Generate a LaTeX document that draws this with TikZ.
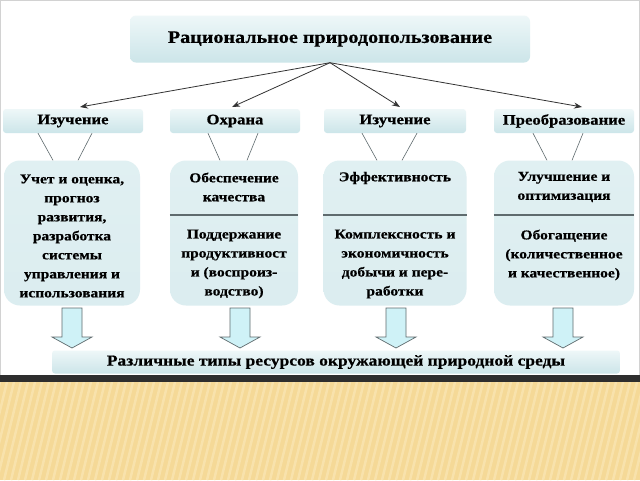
\documentclass[tikz,border=0pt]{standalone}
\usepackage{fontspec}
\setmainfont{Liberation Serif}[BoldFeatures={FakeStretch=1.15,FakeBold=0.6}]
\usetikzlibrary{arrows.meta}
\definecolor{boxtop}{HTML}{EEF7F8}
\definecolor{boxbot}{HTML}{CCE5E9}
\definecolor{linegray}{HTML}{5F6B6E}
\definecolor{arrowfill}{HTML}{CFF2F7}
\definecolor{gold}{HTML}{F5D997}
\definecolor{goldlight}{HTML}{F8E2AC}

\tikzset{
  titlebox/.style={rounded corners=6pt, top color=boxtop, bottom color=boxbot, minimum width=400pt, minimum height=47pt, font=\fontsize{17.5}{20}\selectfont\bfseries},
  headbox/.style={rounded corners=3pt, top color=boxtop, bottom color=boxbot, minimum height=24pt, font=\fontsize{14.5}{16}\selectfont\bfseries},
  bigbox/.style={rounded corners=16pt, top color=boxtop!60!boxbot, bottom color=boxbot!70, minimum height=145pt},
  boxtext/.style={align=center, font=\fontsize{13.5}{19}\selectfont\bfseries},
  fatarrow/.style={draw=linegray, fill=arrowfill, line width=0.7pt, line join=miter},
  thin/.style={draw=linegray, line width=0.6pt},
}

\begin{document}
\begin{tikzpicture}[x=1pt,y=-1pt]
\useasboundingbox (0,0) rectangle (640,480);
\fill[white] (0,0) rectangle (640,375);
\draw[gray!35, line width=1pt] (0.5,0.5) rectangle (639.5,375);

\node[titlebox] (top) at (330,39) {Рациональное природопользование};

% second row
\node[headbox, minimum width=140pt] (h1) at (73,121) {Изучение};
\node[headbox, minimum width=130pt] (h2) at (235,121) {Охрана};
\node[headbox, minimum width=142pt] (h3) at (395,121) {Изучение};
\node[headbox, minimum width=140pt] (h4) at (564,121) {Преобразование};

\draw[-{Stealth[length=8pt,width=6pt]}, line width=0.8pt, black!80] (top.south) -- (80,107);
\draw[-{Stealth[length=8pt,width=6pt]}, line width=0.8pt, black!80] (top.south) -- (232,107);
\draw[-{Stealth[length=8pt,width=6pt]}, line width=0.8pt, black!80] (top.south) -- (400,107);
\draw[-{Stealth[length=8pt,width=6pt]}, line width=0.8pt, black!80] (top.south) -- (582,107);

% big boxes
\node[bigbox, minimum width=136pt] (b1) at (72,233) {};
\node[bigbox, minimum width=128pt] (b2) at (234,233) {};
\node[bigbox, minimum width=143pt] (b3) at (395,233) {};
\node[bigbox, minimum width=140pt] (b4) at (564,233) {};

\draw[thin] ([xshift=-35pt]h1.south) -- ([xshift=-19pt]b1.north);
\draw[thin] ([xshift=19pt]h1.south) -- ([xshift=6pt]b1.north);
\draw[thin] ([xshift=-27pt]h2.south) -- ([xshift=-14pt]b2.north);
\draw[thin] ([xshift=23pt]h2.south) -- ([xshift=13pt]b2.north);
\draw[thin] ([xshift=-33pt]h3.south) -- ([xshift=-18pt]b3.north);
\draw[thin] ([xshift=22pt]h3.south) -- ([xshift=7pt]b3.north);
\draw[thin] ([xshift=-31pt]h4.south) -- ([xshift=-17pt]b4.north);
\draw[thin] ([xshift=19pt]h4.south) -- ([xshift=8pt]b4.north);

% dividers
\draw[linegray, line width=1.2pt] (b2.west |- 0,215) -- (b2.east |- 0,215);
\draw[linegray, line width=1.2pt] (b3.west |- 0,215) -- (b3.east |- 0,215);
\draw[linegray, line width=1.2pt] (b4.west |- 0,215) -- (b4.east |- 0,215);

\node[boxtext] (t1) at (72,236) {Учет и оценка,\\прогноз\\развития,\\разработка\\системы\\управления и\\использования};
\node[boxtext] (t2a) at (234,187) {Обеспечение\\качества};
\node[boxtext] (t2b) at (234,264) {Поддержание\\продуктивност\\и (воспроиз-\\водство)};
\node[boxtext] (t3a) at (395,178) {Эффективность};
\node[boxtext] (t3b) at (395,264) {Комплексность и\\экономичность\\добычи и пере-\\работки};
\node[boxtext] (t4a) at (564,187) {Улучшение и\\оптимизация};
\node[boxtext] (t4b) at (564,255) {Обогащение\\(количественное\\и качественное)};

% block arrows
\coordinate (a1) at (72,308);
\coordinate (a2) at (240,308);
\coordinate (a3) at (396,308);
\coordinate (a4) at (563,308);
\draw[fatarrow] (a1) ++(-10,0) -- ++(20,0) -- ++(0,29) -- ++(10,0) -- ++(-20,11) -- ++(-20,-11) -- ++(10,0) -- cycle;
\draw[fatarrow] (a2) ++(-10,0) -- ++(20,0) -- ++(0,29) -- ++(10,0) -- ++(-20,11) -- ++(-20,-11) -- ++(10,0) -- cycle;
\draw[fatarrow] (a3) ++(-10,0) -- ++(20,0) -- ++(0,29) -- ++(10,0) -- ++(-20,11) -- ++(-20,-11) -- ++(10,0) -- cycle;
\draw[fatarrow] (a4) ++(-10,0) -- ++(20,0) -- ++(0,29) -- ++(10,0) -- ++(-20,11) -- ++(-20,-11) -- ++(10,0) -- cycle;

\node[headbox, minimum width=568pt, minimum height=23pt, font=\fontsize{15.2}{16}\selectfont\bfseries] (res) at (336,362) {Различные типы ресурсов окружающей природной среды};

% bottom band
\fill[black!82] (0,375) rectangle (640,382);
\fill[gold] (0,382) rectangle (640,480);
\begin{scope}
\clip (0,382) rectangle (640,480);
\foreach \i in {0,7,...,700} \draw[goldlight, line width=2.5pt] (\i,382) -- (\i-24,480);
\end{scope}
\end{tikzpicture}
\end{document}
